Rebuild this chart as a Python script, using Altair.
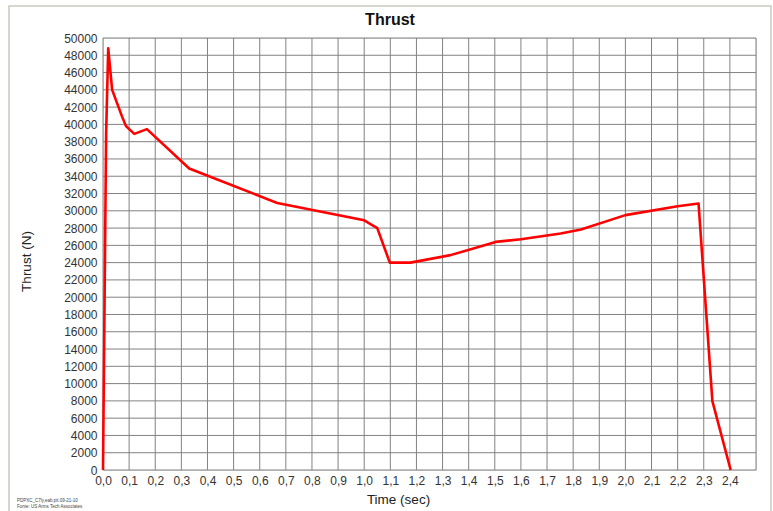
import altair as alt
import pandas as pd

# Thrust curve samples: time in seconds, thrust in newtons
time_s = [0.0, 0.012, 0.02, 0.035, 0.073, 0.088, 0.12, 0.168, 0.33, 0.667,
          1.0, 1.05, 1.098, 1.177, 1.33, 1.503, 1.6, 1.752, 1.83, 2.0,
          2.2, 2.28, 2.333, 2.403]
thrust_n = [0, 39000, 48800, 44000, 40900, 39800, 38900, 39450, 34900, 30900,
            28900, 28000, 24000, 24000, 24870, 26400, 26700, 27370, 27840, 29500,
            30530, 30850, 7980, 0]

x_ticks = [round(i * 0.1, 1) for i in range(26)]
x_labels = [round(i * 0.1, 1) for i in range(25)]
y_ticks = list(range(0, 50001, 2000))

footnote = ["PDPXC_C7ly,eab.pit 09-21-10", "Fonte: US Arms Tech Associates"]

df = pd.DataFrame({"t": time_s, "thrust": thrust_n})

FONT = "Liberation Sans"
GRID = "#828282"
XS = alt.Scale(domain=[0, 2.5], nice=False)
YS = alt.Scale(domain=[0, 50000], nice=False)

X_AXIS = alt.Axis(values=x_labels, title="Time (sec)",
                  labelExpr="replace(format(datum.value, '.1f'), '.', ',')",
                  ticks=False, domain=False, grid=False, labelPadding=5,
                  labelFontSize=12, labelColor="#333333", labelFont=FONT,
                  titleFont=FONT, titleFontSize=13.5, titleFontWeight="normal",
                  titleColor="#222222", titlePadding=6, titleX=295, labelFlush=False)
Y_AXIS = alt.Axis(values=y_ticks, format="d", title="Thrust (N)",
                  ticks=False, domain=False, grid=False, labelPadding=6,
                  labelFontSize=12, labelColor="#333333", labelFont=FONT,
                  titleFont=FONT, titleFontSize=13.5, titleFontWeight="normal",
                  titleColor="#222222", titlePadding=30, titleY=223)

# Grid lines drawn as rules so they sit beneath the thrust curve
vgrid = alt.Chart(pd.DataFrame({"t": x_ticks})).mark_rule(color=GRID, strokeWidth=1).encode(
    x=alt.X("t:Q", scale=XS, axis=X_AXIS))
hgrid = alt.Chart(pd.DataFrame({"thrust": y_ticks})).mark_rule(color=GRID, strokeWidth=1).encode(
    y=alt.Y("thrust:Q", scale=YS, axis=Y_AXIS))

line = alt.Chart(df).mark_line(color="#ff0000", strokeWidth=2.6, strokeJoin="round").encode(
    x=alt.X("t:Q", scale=XS, axis=X_AXIS),
    y=alt.Y("thrust:Q", scale=YS, axis=Y_AXIS),
)

frame = alt.Chart(pd.DataFrame({"a": [0]})).mark_rect(
    filled=False, stroke="#c9c9c0", strokeWidth=1.5).encode(
    x=alt.value(-94), x2=alt.value(668), y=alt.value(-32), y2=alt.value(478))

title = alt.Chart(pd.DataFrame({"txt": ["Thrust"]})).mark_text(
    align="center", baseline="middle", font=FONT, fontSize=16, fontWeight="bold",
    color="#111111").encode(x=alt.value(287), y=alt.value(-18), text="txt:N")

note1 = alt.Chart(pd.DataFrame({"txt": [footnote[0]]})).mark_text(
    align="left", baseline="middle", fontSize=4.5, font=FONT, color="#444444").encode(
    x=alt.value(-86), y=alt.value(31 + 432), text="txt:N")
note2 = alt.Chart(pd.DataFrame({"txt": [footnote[1]]})).mark_text(
    align="left", baseline="middle", fontSize=4.5, font=FONT, color="#444444").encode(
    x=alt.value(-86), y=alt.value(37 + 432), text="txt:N")

chart = alt.layer(frame, vgrid, hgrid, line, title, note1, note2).properties(
    width=653, height=432,
    autosize=alt.AutoSizeParams(type="none"),
    padding={"left": 103, "top": 38, "right": 17, "bottom": 41},
).configure_view(stroke=GRID, strokeWidth=1).configure(background="white")

chart.save("out.html", embed_options={"renderer": "svg", "actions": False})
